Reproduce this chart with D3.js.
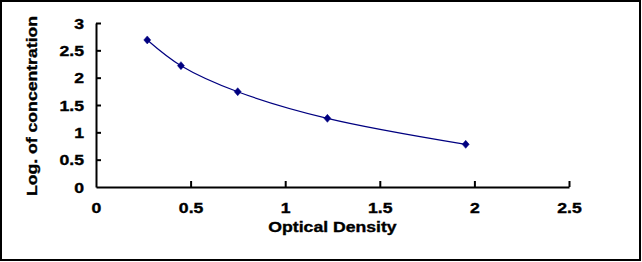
<!DOCTYPE html>
<html><head><meta charset="utf-8">
<script src="https://cdn.jsdelivr.net/npm/d3@7"></script>
<style>
html,body{margin:0;padding:0;background:#fff;}
svg{display:block;}
text{font-family:"Liberation Sans",Arial,sans-serif;font-weight:bold;fill:#000;stroke:#000;stroke-width:0.35px;}
</style></head>
<body>
<script>
const odValues = [0.271, 0.449, 0.749, 1.223, 1.954];
const logConc = [2.69, 2.22, 1.743, 1.256, 0.78];
const xTicks = [0, 0.5, 1, 1.5, 2, 2.5];
const yTicks = [0, 0.5, 1, 1.5, 2, 2.5, 3];
const xTitle = "Optical Density";
const yTitle = "Log. of concentration";

const W = 642, H = 262, SX = 1.26, FS = 14;
const svg = d3.select("body").append("svg").attr("width", W).attr("height", H);
svg.append("rect").attr("x", 1).attr("y", 1).attr("width", W - 3).attr("height", H - 3)
  .attr("fill", "#fff").attr("stroke", "#000").attr("stroke-width", 2);

const x = d3.scaleLinear().domain([0, 2.5]).range([96, 569]);
const y = d3.scaleLinear().domain([0, 3]).range([187, 23]);

const xAxis = svg.append("g").attr("transform", `translate(0,${y(0)})`)
  .call(d3.axisBottom(x).tickValues(xTicks).tickSizeInner(-6).tickSizeOuter(0).tickPadding(0).tickFormat(d3.format("")));
const yAxis = svg.append("g").attr("transform", `translate(${x(0)},0)`)
  .call(d3.axisLeft(y).tickValues(yTicks).tickSizeInner(-5).tickSizeOuter(0).tickPadding(0).tickFormat(d3.format("")));
[xAxis, yAxis].forEach(g => {
  g.select(".domain").attr("stroke", "#000").attr("stroke-width", 2);
  g.selectAll(".tick line").attr("stroke", "#000").attr("stroke-width", 2);
  g.selectAll("text").attr("font-size", FS).attr("font-family", "Liberation Sans, Arial, sans-serif")
    .attr("font-weight", "bold").attr("fill", "#000");
});
xAxis.select(".tick line").remove();
yAxis.selectAll(".tick").filter(d => d === 0).select("line").remove();
xAxis.selectAll(".tick text").attr("y", 26).attr("dy", null).attr("transform", `scale(${SX},1)`);
yAxis.selectAll(".tick text").attr("x", -12 / SX).attr("dy", "0.36em").attr("transform", `scale(${SX},1)`);

svg.append("text").attr("transform", `translate(${(x(0) + x(2.5)) / 2},232) scale(${SX},1)`)
  .attr("text-anchor", "middle").attr("font-size", FS).text(xTitle);
svg.append("text").attr("transform", `translate(37,106) rotate(-90) scale(${SX},1)`)
  .attr("text-anchor", "middle").attr("font-size", FS).text(yTitle);

const pts = odValues.map((v, i) => [v, logConc[i]]);
const line = d3.line().x(d => x(d[0])).y(d => y(d[1])).curve(d3.curveCatmullRom.alpha(0.5));
svg.append("path").attr("d", line(pts)).attr("fill", "none").attr("stroke", "#000080").attr("stroke-width", 1.2);

svg.selectAll(".pt").data(pts).enter().append("path")
  .attr("transform", d => `translate(${x(d[0])},${y(d[1])})`)
  .attr("d", "M0,-4L3.5,0L0,4L-3.5,0Z").attr("fill", "#000080").attr("stroke", "#000080").attr("stroke-width", 0.5);
</script>
</body></html>
